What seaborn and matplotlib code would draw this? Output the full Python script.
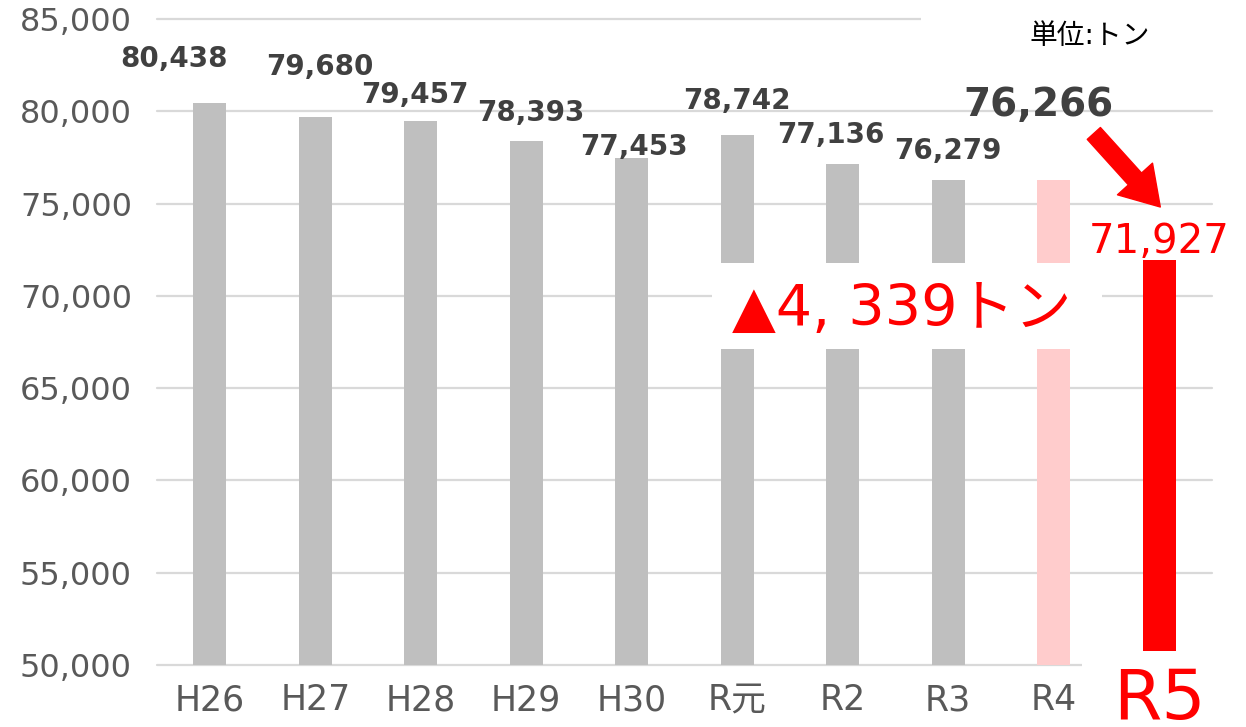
import matplotlib
matplotlib.use("Agg")
import matplotlib.pyplot as plt
import seaborn as sns
import pandas as pd
from matplotlib.patches import Rectangle

# ---- data ----
categories = ["H26", "H27", "H28", "H29", "H30", "R元", "R2", "R3", "R4", "R5"]
values = [80438, 79680, 79457, 78393, 77453, 78742, 77136, 76279, 76266, 71927]
y_ticks = [50000, 55000, 60000, 65000, 70000, 75000, 80000, 85000]
unit_label = "単位:トン"
change_label = "▲4, 339トン"

# ---- style ----
sns.set_style("white")
plt.rcParams['font.family'] = ['DejaVu Sans', 'Noto Sans CJK JP']

GRAY = "#BFBFBF"
PINK = "#FFCCCC"
RED = "#FF0000"
TICK_C = "#595959"
LABEL_C = "#404040"

fig = plt.figure(figsize=(12.46, 7.27), dpi=100)
ax = fig.add_axes([157 / 1246, 62 / 727, 1055 / 1246, 646 / 727])

df = pd.DataFrame({"year": categories, "tons": values})
palette = {c: GRAY for c in categories}
palette["R4"] = PINK
palette["R5"] = RED
sns.barplot(data=df, x="year", y="tons", hue="year", palette=palette,
            legend=False, width=0.31, saturation=1, linewidth=0, ax=ax, zorder=2)

ax.set_xlim(-0.5, 9.5)
ax.set_ylim(50000, 85000)
ax.set_yticks(y_ticks)
ax.set_yticklabels([f"{v:,}" for v in y_ticks])
ax.set_xlabel("")
ax.set_ylabel("")
ax.yaxis.grid(True, color="#D9D9D9", lw=1.6, zorder=0)
ax.xaxis.grid(False)
ax.set_axisbelow(True)
sns.despine(ax=ax, left=True, bottom=True, top=True, right=True)
for gl in ax.yaxis.get_gridlines():
    gl.set_clip_on(False)

ax.tick_params(axis="y", length=0, pad=18, labelsize=23, labelcolor=TICK_C)
ax.tick_params(axis="x", length=0, pad=13, labelsize=25, labelcolor=TICK_C)
ax.set_xticks(range(len(categories)))
ax.set_xticklabels(categories[:-1] + [""])

# ---- white masks (gap band, R5 bottom, top gridline end) ----
ax.add_patch(Rectangle((4.76, 67121), 8.457 - 4.76, 71780 - 67121,
                       facecolor="white", edgecolor="none", zorder=3))
ax.add_patch(Rectangle((8.268, 48000), 9.6 - 8.268, 50758 - 48000,
                       facecolor="white", edgecolor="none", zorder=3, clip_on=False))
ax.add_patch(Rectangle((6.739, 84800), 9.6 - 6.739, 400,
                       facecolor="white", edgecolor="none", zorder=3, clip_on=False))

# ---- value labels ----
offsets = [(-26, 32), (3, 36), (-4, 19), (3, 20), (1.5, 8), (0, 24), (-8.5, 21), (0, 21)]
for i, (dx, dy) in enumerate(offsets):
    ax.annotate(f"{values[i]:,}", xy=(i, values[i]), xytext=(dx, dy),
                textcoords="offset points", ha="center", va="center",
                fontsize=20, fontweight="bold", color=LABEL_C, zorder=5,
                annotation_clip=False)

# R4 (big) and R5 (red)
ax.annotate(f"{values[8]:,}", xy=(8, values[8]), xytext=(-11, 54),
            textcoords="offset points", ha="center", va="center",
            fontsize=28, fontweight="bold", color=LABEL_C, zorder=5,
            annotation_clip=False)
ax.annotate(f"{values[9]:,}", xy=(9, values[9]), xytext=(0, 13.5),
            textcoords="offset points", ha="center", va="center",
            fontsize=29, color=RED, zorder=5, annotation_clip=False)

# arrow from R4 label to R5
ax.annotate("", xy=(9.01, 74814), xytext=(8.38, 78800),
            arrowprops=dict(arrowstyle="simple,head_length=1.6,head_width=2.0,tail_width=0.75",
                            color=RED, mutation_scale=17, shrinkA=0, shrinkB=0),
            zorder=5, annotation_clip=False)

# change text
ax.text(6.562, 69234, change_label, ha="center", va="center",
        fontsize=41, color=RED, zorder=6)

# R5 category label
ax.text(9, -0.083, "R5", transform=ax.get_xaxis_transform(), ha="center",
        va="baseline", fontsize=50, color=RED, zorder=6, clip_on=False)

# unit
fig.text(1090 / 1246, 1 - 36 / 727, unit_label, ha="center", va="center",
         fontsize=20, color="black")

fig.savefig("out.png", dpi=100, facecolor="white")
